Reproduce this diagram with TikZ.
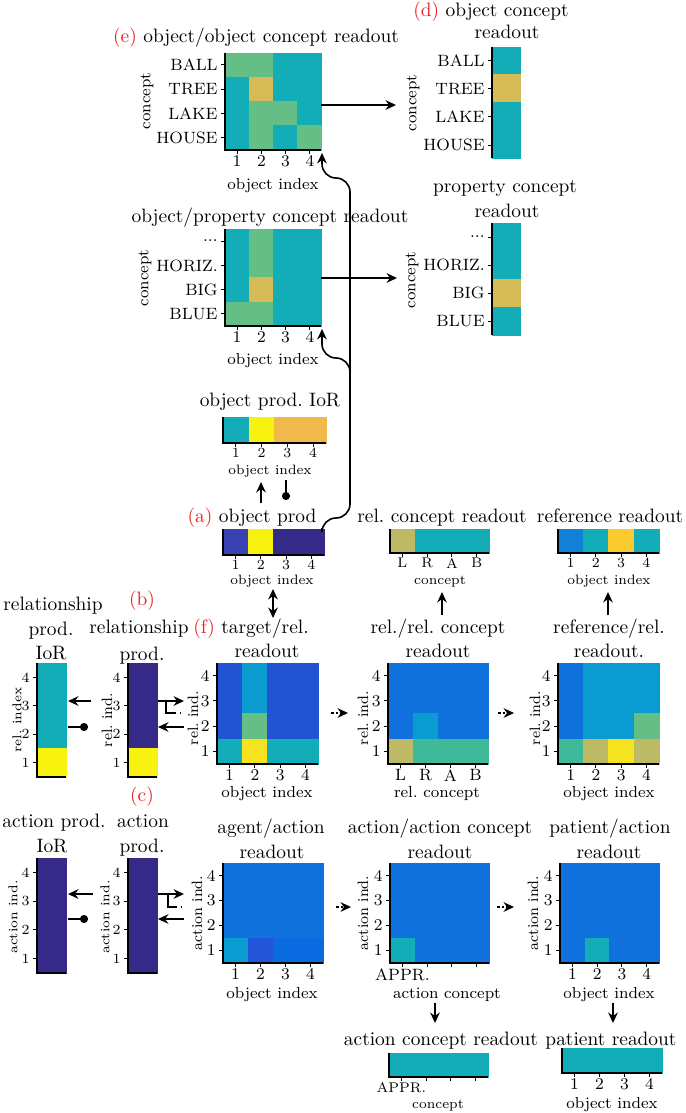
\documentclass[tikz,border=0pt]{standalone}
\usetikzlibrary{arrows.meta,fit}
\definecolor{cTe}{HTML}{13ADB8}
\definecolor{cGr}{HTML}{65BE86}
\definecolor{cGo}{HTML}{D7BB57}
\definecolor{cYe}{HTML}{F8F20F}
\definecolor{cYf}{HTML}{F4E31E}
\definecolor{cNv}{HTML}{352A87}
\definecolor{cBo}{HTML}{3A41B3}
\definecolor{cOr}{HTML}{F1B94A}
\definecolor{cBf}{HTML}{2253D3}
\definecolor{cLb}{HTML}{0A9BD0}
\definecolor{cMb}{HTML}{0F72DC}
\definecolor{cOl}{HTML}{BDB965}
\definecolor{cSg}{HTML}{3FBA99}
\definecolor{cRb}{HTML}{1380D8}
\definecolor{cRy}{HTML}{FACB2E}
\definecolor{cAb}{HTML}{0A6BE0}
\definecolor{cAd}{HTML}{2255D8}
\definecolor{cRed}{HTML}{F01E1E}
\newcommand{\tdots}{...}
\tikzset{
  ttl/.style={font=\fontsize{9.7}{12}\selectfont, inner sep=0pt, anchor=base},
  tk/.style={font=\fontsize{8.2}{9.8}\selectfont, inner sep=0pt},
  tks/.style={font=\fontsize{7}{8.4}\selectfont, inner sep=0pt},
  sm/.style={font=\fontsize{6.8}{8}\selectfont, inner sep=0pt},
  ax/.style={font=\fontsize{8}{9.6}\selectfont, inner sep=0pt},
  yl/.style={font=\fontsize{7.5}{9}\selectfont, inner sep=0pt, rotate=90},
  yls/.style={font=\fontsize{6.4}{8}\selectfont, inner sep=0pt, rotate=90},
  spine/.style={line width=0.7pt},
  tickline/.style={line width=0.5pt},
  arr/.style={line width=0.8pt, -{Stealth[length=5.2pt,width=4.8pt]}},
  dotend/.style={line width=0.8pt, -{Circle[length=4pt]}},
  darr/.style={line width=0.8pt, dash pattern=on 1.3pt off 1pt, -{Stealth[length=5.2pt,width=4.8pt]}},
  plain/.style={line width=0.8pt},
}
\newcommand{\hmap}[8]{%
  \pgfmathsetmacro{\hcw}{(#4-#2)/#6}%
  \pgfmathsetmacro{\hch}{(#5-#3)/#7}%
  \foreach \cc [count=\ii from 0] in {#8}{%
    \pgfmathtruncatemacro{\hx}{mod(\ii,#6)}%
    \pgfmathtruncatemacro{\hy}{div(\ii,#6)}%
    \filldraw[fill=\cc,draw=\cc,line width=0.25pt] ({#2+\hx*\hcw},{#3+\hy*\hch}) rectangle ++(\hcw,\hch);
  }%
  \node[fit={(#2,#3) (#4,#5)}, inner sep=0pt] (#1) {};
}
\newcommand{\yticks}[3]{%
  \foreach \yy/\lab in {#3}{\draw[tickline] (#1-4,\yy) -- (#1,\yy); \node[#2,anchor=east] at (#1-7,\yy) {\lab};}}
\newcommand{\xticks}[4]{%
  \foreach \xx/\lab in {#4}{\draw[tickline] (\xx,#1) -- (\xx,#1+4); \node[#2,anchor=north] at (\xx,#1+#3) {\lab};}}
\begin{document}
\begin{tikzpicture}[x=0.5pt,y=-0.5pt]
\useasboundingbox (0,0) rectangle (685,1113);
\fill[white] (0,0) rectangle (685,1113);

% ---------- (e) object/object concept readout
\node[ttl] (tE) at (256,43) {\textcolor{cRed}{(e)} object/object concept readout};
\hmap{eM}{225}{53}{321}{150}{4}{4}{cGr,cGr,cTe,cTe, cTe,cGo,cTe,cTe, cTe,cGr,cGr,cTe, cTe,cGr,cTe,cGr}
\draw[spine] (225,53) -- (225,150) -- (321,150);
\yticks{225}{tk}{65/BALL,89.4/TREE,113.6/LAKE,137.9/HOUSE}
\xticks{150}{tk}{5}{237.1/1,261.4/2,285.6/3,309.9/4}
\node[ax,anchor=base] (xE) at (273,189) {object index};
\node[ax,rotate=90] (yE) at (147,101) {concept};

% ---------- (d) object concept readout
\node[ttl] (tD1) at (491,17) {\textcolor{cRed}{(d)} object concept};
\node[ttl] (tD2) at (507,39) {readout};
\hmap{dM}{492}{47}{520}{158}{1}{4}{cTe,cGo,cTe,cTe}
\draw[spine] (492,47) -- (492,158);
\yticks{492}{tk}{61/BALL,89/TREE,117/LAKE,145/HOUSE}
\node[ax,rotate=90] (yD) at (413,103) {concept};
\coordinate (dIn) at (396,105);
\draw[arr] (eM.east |- dIn) -- (dIn);

% ---------- object/property concept readout
\node[ttl] (tP) at (270,222) {object/property concept readout};
\hmap{pM}{225}{229}{321}{326}{4}{4}{cTe,cGr,cTe,cTe, cTe,cGr,cTe,cTe, cTe,cGo,cTe,cTe, cGr,cGr,cTe,cTe}
\draw[spine] (225,229) -- (225,326) -- (321,326);
\yticks{225}{tk}{241/{\tdots},265.4/{HORIZ.},289.6/BIG,313.9/BLUE}
\xticks{326}{tk}{5}{237.1/1,261.4/2,285.6/3,309.9/4}
\node[ax,anchor=base] (xP) at (273,364) {object index};
\node[ax,rotate=90] (yP) at (145,278) {concept};

% ---------- property concept readout
\node[ttl] (tQ1) at (505,192) {property concept};
\node[ttl] (tQ2) at (507,217) {readout};
\hmap{qM}{492}{223}{520}{335}{1}{4}{cTe,cTe,cGo,cTe}
\draw[spine] (492,223) -- (492,335);
\yticks{492}{tk}{237/{\tdots},265/{HORIZ.},293/BIG,321/BLUE}
\node[ax,rotate=90] (yQ) at (412,280) {concept};
\coordinate (qIn) at (397,278);
\draw[arr] (pM.east |- qIn) -- (qIn);

% ---------- object prod. IoR
\node[ttl] (tIoR) at (270,406) {object prod.\ IoR};
\hmap{iorM}{223}{417}{326}{443}{4}{1}{cTe,cYe,cOr,cOr}
\draw[spine] (223,417) -- (223,443) -- (326,443);
\xticks{443}{tks}{5}{235.9/1,261.6/2,287.4/3,313.1/4}
\node[sm,anchor=base] (xIoR) at (270,474) {object index};
\coordinate (ioUpS) at (261,503);
\coordinate (ioUpE) at (261,482);
\draw[arr] (ioUpS) -- (ioUpE);
\coordinate (ioDS) at (286,480);
\coordinate (ioDE) at (286,500);
\draw[dotend] (ioDS) -- (ioDE);

% ---------- (a) object prod
\node[ttl] (tA) at (252,522) {\textcolor{cRed}{(a)} object prod};
\hmap{aM}{223}{529}{324}{555}{4}{1}{cBo,cYe,cNv,cNv}
\draw[spine] (223,529) -- (223,555) -- (324,555);
\xticks{555}{tks}{5}{235.6/1,260.9/2,286.1/3,311.4/4}
\node[sm,anchor=base] (xA) at (272,584) {object index};
\coordinate (aOut) at (322,528);
\coordinate (eIn) at (322,153);
\coordinate (pIn) at (322,329);
\draw[arr, rounded corners=7] (aOut) -- (322,518) -- (350,518) -- (350,178) -- (322,178) -- (eIn);
\draw[arr, rounded corners=7] (350,374) -- (350,358) -- (322,358) -- (pIn);
\coordinate (dbT) at (273,589);
\coordinate (dbB) at (273,618);
\draw[line width=0.8pt, {Stealth[length=5.2pt,width=4.8pt]}-{Stealth[length=5.2pt,width=4.8pt]}] (dbT) -- (dbB);

% ---------- rel. concept readout
\node[ttl] (tRC) at (442,522) {rel.\ concept readout};
\hmap{rcM}{390}{529}{489}{553}{4}{1}{cOl,cTe,cTe,cTe}
\draw[spine] (390,529) -- (390,553) -- (489,553);
\xticks{553}{tks}{5}{402.4/L,427.1/R,451.9/A,476.6/B}
\node[sm,anchor=base] (xRC) at (440,584) {concept};

% ---------- reference readout
\node[ttl] (tRF) at (610,522) {reference readout};
\hmap{rfM}{558}{529}{659}{553}{4}{1}{cRb,cTe,cRy,cTe}
\draw[spine] (558,529) -- (558,553) -- (659,553);
\xticks{553}{tks}{5}{570.6/1,595.9/2,621.1/3,646.4/4}
\node[sm,anchor=base] (xRF) at (609,584) {object index};

% ---------- (b) relationship prod. IoR
\node[ttl] (tB1) at (53,610) {relationship};
\node[ttl] (tB2) at (51,635) {prod.};
\node[ttl] (tB3) at (51,659) {IoR};
\node[ttl] (tBl) at (142,605) {\textcolor{cRed}{(b)}};
\node[ttl] (tBP1) at (139,633) {relationship};
\node[ttl] (tBP2) at (142,660) {prod.};
\hmap{bIM}{37}{663}{66}{777}{1}{4}{cTe,cTe,cTe,cYe}
\draw[spine] (37,663) -- (37,777) -- (66,777);
\yticks{37}{tks}{677.3/4,705.8/3,734.3/2,762.8/1}
\node[yls] (yBI) at (17,720) {rel.\ index};
\hmap{bPM}{128}{663}{157}{777}{1}{4}{cNv,cNv,cNv,cYe}
\draw[spine] (128,663) -- (128,777) -- (157,777);
\yticks{128}{tks}{677.3/4,705.8/3,734.3/2,762.8/1}
\node[yl] (yBP) at (107,720) {rel.\ ind.};
\coordinate (b1s) at (91,701); \coordinate (b1e) at (68,701);
\draw[arr] (b1s) -- (b1e);
\coordinate (b2s) at (68,727); \coordinate (b2e) at (88,727);
\draw[dotend] (b2s) -- (b2e);
\coordinate (b3s) at (158,701); \coordinate (b3e) at (184,701);
\draw[arr] (b3s) -- (b3e);
\draw[plain] (166,701) -- (166,713) -- (174,713);
\draw[plain, dotted] (174,713) -- (181,713);
\coordinate (b4s) at (184,727); \coordinate (b4e) at (158,727);
\draw[arr] (b4s) -- (b4e);

% ---------- (f) target/rel. readout
\node[ttl] (tF1) at (251,633) {\textcolor{cRed}{(f)} target/rel.};
\node[ttl] (tF2) at (267,657) {readout};
\hmap{fM}{217}{663}{318}{764}{4}{4}{cBf,cLb,cBf,cBf, cBf,cLb,cBf,cBf, cBf,cGr,cBf,cBf, cTe,cYf,cTe,cTe}
\draw[spine] (217,663) -- (217,764) -- (318,764);
\yticks{217}{tk}{675.6/4,700.9/3,726.1/2,751.4/1}
\xticks{764}{tk}{5}{229.6/1,254.9/2,280.1/3,305.4/4}
\node[ax,anchor=base] (xF) at (267,797) {object index};
\node[yl] (yF) at (193,718) {rel.\ ind.};
\coordinate (fOs) at (331,713); \coordinate (fOe) at (348,713);
\draw[darr] (fOs) -- (fOe);

% ---------- rel./rel. concept readout
\node[ttl] (tRR1) at (438,633) {rel./rel.\ concept};
\node[ttl] (tRR2) at (438,657) {readout};
\hmap{rrM}{388}{663}{488}{764}{4}{4}{cMb,cMb,cMb,cMb, cMb,cMb,cMb,cMb, cMb,cLb,cMb,cMb, cOl,cSg,cSg,cSg}
\draw[spine] (388,663) -- (388,764) -- (488,764);
\yticks{388}{tk}{675.6/4,700.9/3,726.1/2,751.4/1}
\xticks{764}{tk}{5}{400.5/L,425.5/R,450.5/A,475.5/B}
\node[ax,anchor=base] (xRR) at (437,797) {rel.\ concept};
\node[yl] (yRR) at (363,718) {rel.\ ind.};
\coordinate (rOs) at (498,713); \coordinate (rOe) at (514,713);
\draw[darr] (rOs) -- (rOe);
\coordinate (rcUpS) at (442,615); \coordinate (rcUpE) at (442,592);
\draw[arr] (rcUpS) -- (rcUpE);

% ---------- reference/rel. readout.
\node[ttl] (tRRf1) at (609,633) {reference/rel.};
\node[ttl] (tRRf2) at (609,657) {readout.};
\hmap{rrfM}{558}{663}{659}{764}{4}{4}{cMb,cLb,cLb,cLb, cMb,cLb,cLb,cLb, cMb,cLb,cLb,cGr, cSg,cOl,cYf,cOl}
\draw[spine] (558,663) -- (558,764) -- (659,764);
\yticks{558}{tk}{675.6/4,700.9/3,726.1/2,751.4/1}
\xticks{764}{tk}{5}{570.6/1,595.9/2,621.1/3,646.4/4}
\node[ax,anchor=base] (xRRf) at (609,797) {object index};
\node[yl] (yRRf) at (535,718) {rel.\ ind.};
\coordinate (rfUpS) at (608,615); \coordinate (rfUpE) at (608,592);
\draw[arr] (rfUpS) -- (rfUpE);

% ---------- (c) action prod. IoR
\node[ttl] (tCl) at (142,801) {\textcolor{cRed}{(c)}};
\node[ttl] (tC1) at (54,827) {action prod.};
\node[ttl] (tC2) at (52,852) {IoR};
\node[ttl] (tCP1) at (143,827) {action};
\node[ttl] (tCP2) at (142,852) {prod.};
\hmap{cIM}{37}{858}{66}{973}{1}{4}{cNv,cNv,cNv,cNv}
\draw[spine] (37,858) -- (37,973) -- (66,973);
\yticks{37}{tks}{872.4/4,901.1/3,929.9/2,958.6/1}
\node[yls] (yCI) at (13,917) {action ind.};
\hmap{cPM}{128}{858}{157}{973}{1}{4}{cNv,cNv,cNv,cNv}
\draw[spine] (128,858) -- (128,973) -- (157,973);
\yticks{128}{tks}{872.4/4,901.1/3,929.9/2,958.6/1}
\node[yls] (yCP) at (105,917) {action ind.};
\coordinate (c1s) at (93,894); \coordinate (c1e) at (68,894);
\draw[arr] (c1s) -- (c1e);
\coordinate (c2s) at (68,919); \coordinate (c2e) at (88,919);
\draw[dotend] (c2s) -- (c2e);
\coordinate (c3s) at (158,894); \coordinate (c3e) at (184,894);
\draw[arr] (c3s) -- (c3e);
\draw[plain] (168,894) -- (168,907) -- (175,907);
\draw[plain, dotted] (175,907) -- (182,907);
\coordinate (c4s) at (184,919); \coordinate (c4e) at (158,919);
\draw[arr] (c4s) -- (c4e);

% ---------- agent/action readout
\node[ttl] (tAg1) at (271,833) {agent/action};
\node[ttl] (tAg2) at (272,858) {readout};
\hmap{agM}{223}{863}{323}{963}{4}{4}{cMb,cMb,cMb,cMb, cMb,cMb,cMb,cMb, cMb,cMb,cMb,cMb, cLb,cAd,cAb,cAb}
\draw[spine] (223,863) -- (223,963) -- (323,963);
\yticks{223}{tk}{875.5/4,900.5/3,925.5/2,950.5/1}
\xticks{963}{tk}{5}{235.5/1,260.5/2,285.5/3,310.5/4}
\node[ax,anchor=base] (xAg) at (272,998) {object index};
\node[yl] (yAg) at (197,913) {action ind.};
\coordinate (gOs) at (336,907); \coordinate (gOe) at (351,907);
\draw[darr] (gOs) -- (gOe);

% ---------- action/action concept readout
\node[ttl] (tAA1) at (440,833) {action/action concept};
\node[ttl] (tAA2) at (440,858) {readout};
\hmap{aaM}{390}{863}{489}{963}{4}{4}{cMb,cMb,cMb,cMb, cMb,cMb,cMb,cMb, cMb,cMb,cMb,cMb, cTe,cMb,cMb,cMb}
\draw[spine] (390,863) -- (390,963) -- (489,963);
\yticks{390}{tk}{875.5/4,900.5/3,925.5/2,950.5/1}
\xticks{963}{tk}{5}{402.4/APPR.,427.1/{},451.9/{},476.6/{}}
\node[ax,anchor=base] (xAA) at (447,998) {action concept};
\node[yl] (yAA) at (363,913) {action ind.};
\coordinate (aOs) at (497,907); \coordinate (aOe) at (514,907);
\draw[darr] (aOs) -- (aOe);
\coordinate (acDS) at (435,1003); \coordinate (acDE) at (435,1023);
\draw[arr] (acDS) -- (acDE);

% ---------- patient/action readout
\node[ttl] (tPa1) at (610,833) {patient/action};
\node[ttl] (tPa2) at (609,858) {readout};
\hmap{paM}{560}{863}{659}{963}{4}{4}{cMb,cMb,cMb,cMb, cMb,cMb,cMb,cMb, cMb,cMb,cMb,cMb, cMb,cTe,cMb,cMb}
\draw[spine] (560,863) -- (560,963) -- (659,963);
\yticks{560}{tk}{875.5/4,900.5/3,925.5/2,950.5/1}
\xticks{963}{tk}{5}{572.4/1,597.1/2,621.9/3,646.6/4}
\node[ax,anchor=base] (xPa) at (609,998) {object index};
\node[yl] (yPa) at (533,913) {action ind.};
\coordinate (paDS) at (613,1003); \coordinate (paDE) at (613,1023);
\draw[arr] (paDS) -- (paDE);

% ---------- action concept readout
\node[ttl] (tAC) at (441,1045) {action concept readout};
\hmap{acM}{389}{1053}{488}{1077}{4}{1}{cTe,cTe,cTe,cTe}
\draw[spine] (389,1053) -- (389,1077) -- (488,1077);
\xticks{1077}{tks}{5}{401.4/APPR.,426.1/{},450.9/{},475.6/{}}
\node[sm,anchor=base] (xAC) at (438,1108) {concept};

% ---------- patient readout
\node[ttl] (tPR) at (611,1045) {patient readout};
\hmap{prM}{562}{1048}{662}{1073}{4}{1}{cTe,cTe,cTe,cTe}
\draw[spine] (562,1048) -- (562,1073) -- (662,1073);
\xticks{1073}{tk}{5}{574.5/1,599.5/2,624.5/3,649.5/4}
\node[ax,anchor=base] (xPR) at (612,1108) {object index};
\end{tikzpicture}
\end{document}
